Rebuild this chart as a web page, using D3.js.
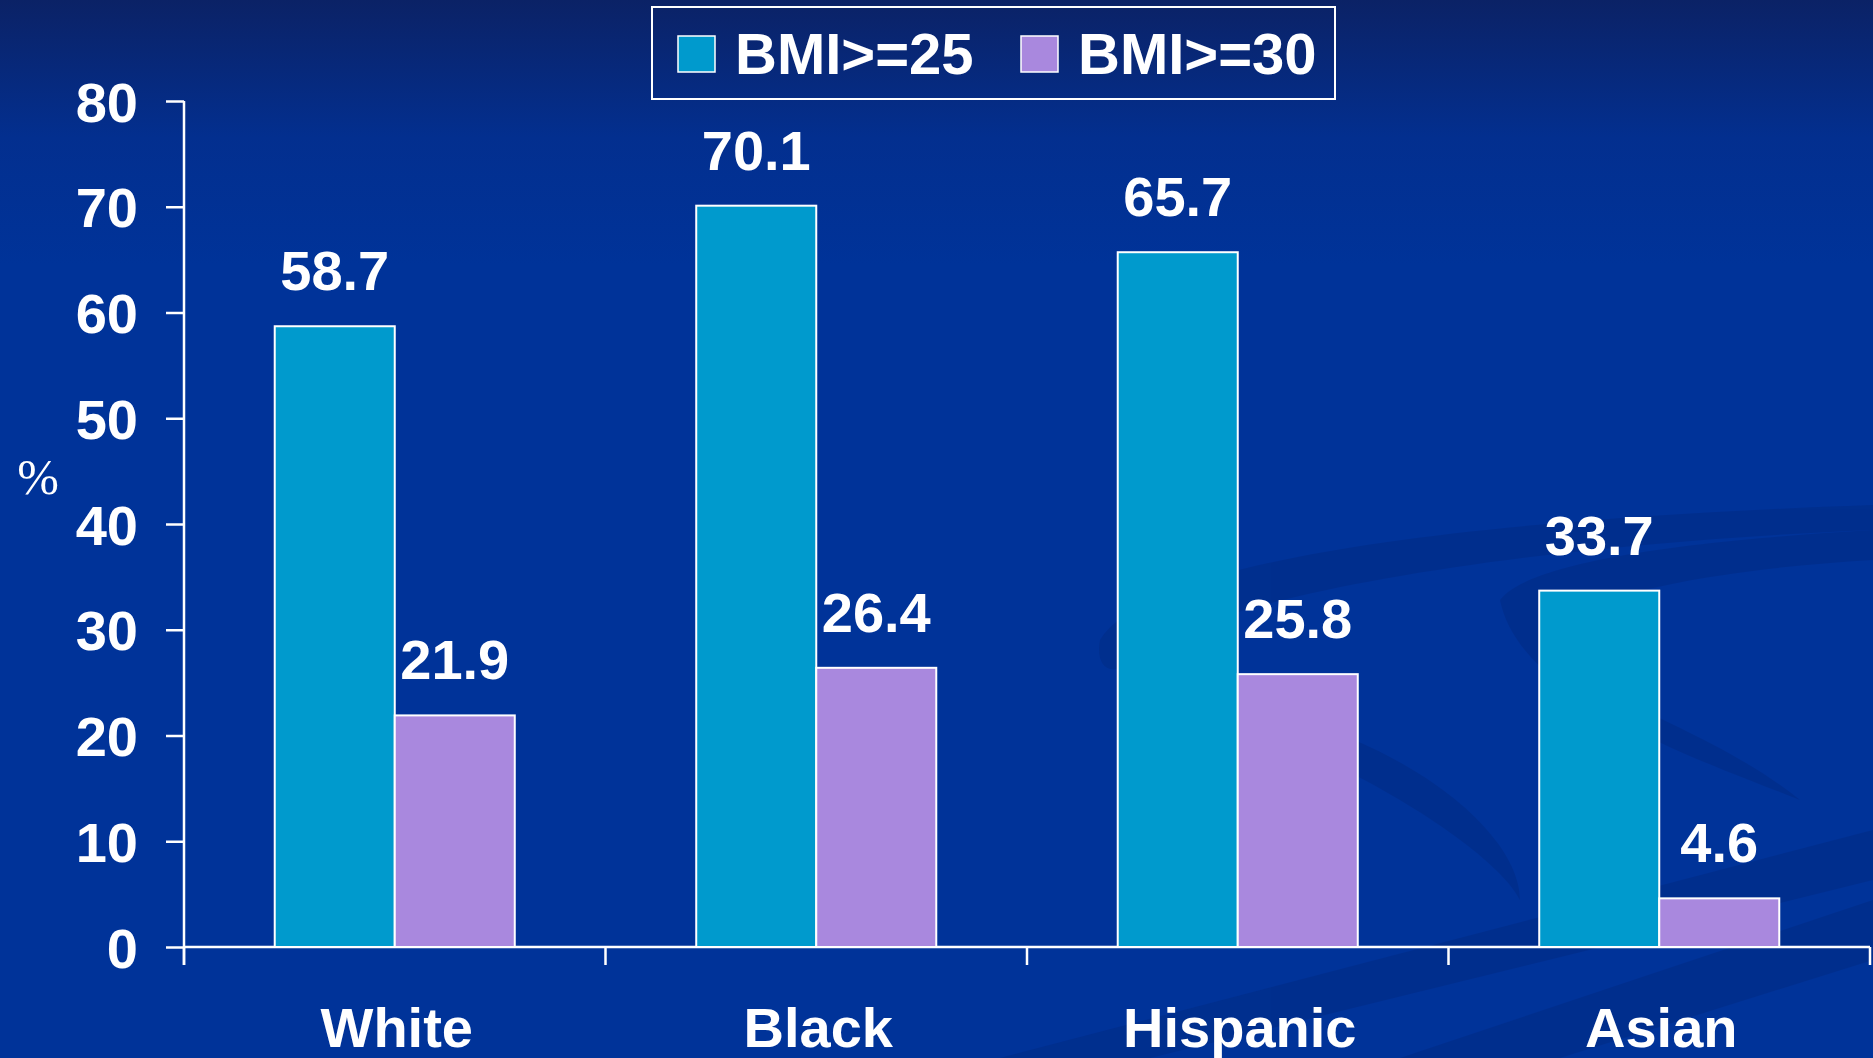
<!DOCTYPE html>
<html>
<head>
<meta charset="utf-8">
<script src="https://cdn.jsdelivr.net/npm/d3@7"></script>
<style>
  html, body { margin: 0; padding: 0; overflow: hidden; }
  svg { display: block; }
</style>
</head>
<body>
<svg id="chart"></svg>
<script>

const CATEGORIES = ['White', 'Black', 'Hispanic', 'Asian'];
const SERIES = ['BMI>=25', 'BMI>=30'];
const BMI25 = [58.7, 70.1, 65.7, 33.7];
const BMI30 = [21.9, 26.4, 25.8, 4.6];
const Y_TICKS = [0, 10, 20, 30, 40, 50, 60, 70, 80];
const COLORS = ['#009acd', '#a988de'];

const W = 1873, H = 1058;
const box = { left: 184, right: 1870, top: 101, bottom: 947 };

const data = CATEGORIES.map((c, i) => {
	return { name: c, values: [BMI25[i], BMI30[i]] };
});

const svg = d3.select('#chart').attr('width', W).attr('height', H);

// background
const defs = svg.append('defs');
const grad = defs.append('linearGradient').attr('id', 'bg')
	.attr('x1', 0).attr('y1', 0).attr('x2', 0).attr('y2', 1);
grad.append('stop').attr('offset', '0%').attr('stop-color', '#0b2266');
grad.append('stop').attr('offset', '13%').attr('stop-color', '#032f8f');
grad.append('stop').attr('offset', '25%').attr('stop-color', '#003399');
grad.append('stop').attr('offset', '100%').attr('stop-color', '#003399');

svg.append('rect').attr('width', W).attr('height', H).style('fill', 'url(#bg)');

// decorative swooshes (background only)
const deco = svg.append('g').style('fill', '#002a80').style('opacity', 0.45);
deco.append('path')
	.attr('d', 'M1100,640 C1150,560 1450,520 1873,505 L1873,530 C1500,545 1200,600 1130,660 C1110,680 1095,665 1100,640 Z');
deco.append('path')
	.attr('d', 'M1500,600 C1530,560 1700,540 1873,530 L1873,560 C1700,570 1560,600 1540,640 C1560,690 1700,720 1800,800 C1700,760 1520,700 1500,600 Z');
deco.append('path')
	.attr('d', 'M1300,720 C1430,760 1520,840 1520,900 C1500,860 1400,790 1280,740 Z');
deco.append('path')
	.attr('d', 'M1000,1058 L1873,830 L1873,880 L1150,1058 Z');
deco.append('path')
	.attr('d', 'M1400,1058 L1873,900 L1873,960 L1560,1058 Z');

// scales
const x0 = d3.scaleBand()
	.domain(CATEGORIES)
	.range([box.left, box.right])
	.paddingInner(0)
	.paddingOuter(0);

const x1 = d3.scaleBand()
	.domain(SERIES)
	.range([0, x0.bandwidth()])
	.paddingInner(0)
	.paddingOuter(0.756);

const y = d3.scaleLinear()
	.domain([0, 80])
	.range([box.bottom, box.top]);

// y axis
const yAxis = svg.append('g')
	.attr('transform', `translate(${box.left},0)`)
	.call(d3.axisLeft(y).tickValues(Y_TICKS).tickSize(18).tickPadding(28).tickSizeOuter(0));
yAxis.select('.domain').remove();
yAxis.append('line')
	.attr('x1', 0).attr('x2', 0)
	.attr('y1', box.top).attr('y2', box.bottom + 18)
	.style('stroke', 'white').style('stroke-width', 2.5);
yAxis.selectAll('.tick line').style('stroke', 'white').style('stroke-width', 2.5);
yAxis.selectAll('.tick text')
	.style('fill', 'white')
	.style('font-family', 'Liberation Sans, Arial, sans-serif')
	.style('font-weight', 'bold')
	.style('font-size', '56px')
	.attr('dy', '0.36em');

// x axis
const xAxis = svg.append('g')
	.attr('transform', `translate(0,${box.bottom})`);
xAxis.append('line')
	.attr('x1', box.left).attr('x2', box.right)
	.style('stroke', 'white').style('stroke-width', 2.5);
const bounds = CATEGORIES.map(c => x0(c)).concat([x0.range()[1]]);
xAxis.selectAll('line.ctick')
	.data(bounds)
	.enter().append('line')
	.attr('class', 'ctick')
	.attr('x1', d => d).attr('x2', d => d)
	.attr('y1', 0).attr('y2', 18)
	.style('stroke', 'white').style('stroke-width', 2.5);
xAxis.selectAll('text')
	.data(CATEGORIES)
	.enter().append('text')
	.attr('x', d => x0(d) + x0.bandwidth() / 2 + 2)
	.attr('y', 100)
	.attr('text-anchor', 'middle')
	.style('fill', 'white')
	.style('font-family', 'Liberation Sans, Arial, sans-serif')
	.style('font-weight', 'bold')
	.style('font-size', '56px')
	.text(d => d);

// bars
const groups = svg.append('g').selectAll('g')
	.data(data)
	.enter().append('g')
	.attr('transform', d => `translate(${x0(d.name)},0)`);

groups.selectAll('rect')
	.data(d => d.values.map((v, i) => ({ key: SERIES[i], v: v, i: i })))
	.enter().append('rect')
	.attr('x', d => x1(d.key))
	.attr('y', d => y(d.v))
	.attr('width', x1.bandwidth())
	.attr('height', d => y(0) - y(d.v))
	.style('fill', d => COLORS[d.i])
	.style('stroke', 'white')
	.style('stroke-width', 2);

groups.selectAll('text')
	.data(d => d.values.map((v, i) => ({ key: SERIES[i], v: v, i: i })))
	.enter().append('text')
	.attr('x', d => x1(d.key) + x1.bandwidth() / 2)
	.attr('y', d => y(d.v) - 36)
	.attr('text-anchor', 'middle')
	.style('fill', 'white')
	.style('font-family', 'Liberation Sans, Arial, sans-serif')
	.style('font-weight', 'bold')
	.style('font-size', '56px')
	.text(d => d.v.toFixed(1));

// y axis title
svg.append('text')
	.attr('x', 38)
	.attr('y', 494)
	.attr('text-anchor', 'middle')
	.style('fill', 'white')
	.style('font-family', 'Liberation Serif, Times New Roman, serif')
	.style('font-size', '50px')
	.text('%');

// legend
const legend = svg.append('g');
legend.append('rect')
	.attr('x', 652).attr('y', 7)
	.attr('width', 683).attr('height', 92)
	.style('fill', 'none')
	.style('stroke', 'white')
	.style('stroke-width', 2);

const legendX = [678, 1021];
const items = legend.selectAll('g.item')
	.data(SERIES)
	.enter().append('g')
	.attr('class', 'item')
	.attr('transform', (d, i) => `translate(${legendX[i]},0)`);
items.append('rect')
	.attr('x', 0).attr('y', 36)
	.attr('width', 37).attr('height', 36)
	.style('fill', (d, i) => COLORS[i])
	.style('stroke', 'white')
	.style('stroke-width', 1.5);
items.append('text')
	.attr('x', 57).attr('y', 74)
	.style('fill', 'white')
	.style('font-family', 'Liberation Sans, Arial, sans-serif')
	.style('font-weight', 'bold')
	.style('font-size', '58px')
	.text(d => d);

</script>
</body>
</html>
